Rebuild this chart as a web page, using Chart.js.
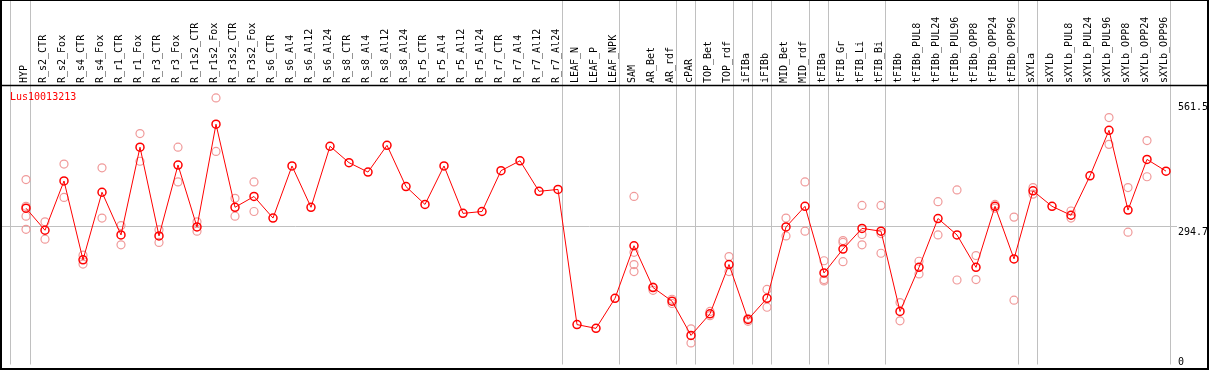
<!DOCTYPE html>
<html>
<head>
<title>Lus10013213</title>
<script src="https://cdn.jsdelivr.net/npm/chart.js@4.4.0/dist/chart.umd.min.js"></script>
<style>
  body { margin: 0; background: #fff; }
  #chart { display: block; }
</style>
</head>
<body>
<canvas id="chart" width="1209" height="370"></canvas>
<script>
const geneName = 'Lus10013213'

const samples = [
    'HYP', 'R_s2_CTR', 'R_s2_Fox', 'R_s4_CTR', 'R_s4_Fox', 'R_r1_CTR', 'R_r1_Fox', 'R_r3_CTR', 'R_r3_Fox',
    'R_r1s2_CTR', 'R_r1s2_Fox', 'R_r3s2_CTR', 'R_r3s2_Fox', 'R_s6_CTR', 'R_s6_Al4', 'R_s6_Al12', 'R_s6_Al24',
    'R_s8_CTR', 'R_s8_Al4', 'R_s8_Al12', 'R_s8_Al24', 'R_r5_CTR', 'R_r5_Al4', 'R_r5_Al12', 'R_r5_Al24',
    'R_r7_CTR', 'R_r7_Al4', 'R_r7_Al12', 'R_r7_Al24', 'LEAF_N', 'LEAF_P', 'LEAF_NPK', 'SAM', 'AR_Bet', 'AR_rdf',
    'cPAR', 'TOP_Bet', 'TOP_rdf', 'iFIBa', 'iFIBb', 'MID_Bet', 'MID_rdf', 'tFIBa', 'tFIB_Gr', 'tFIB_Li', 'tFIB_Bi',
    'tFIBb', 'tFIBb_PUL8', 'tFIBb_PUL24', 'tFIBb_PUL96', 'tFIBb_OPP8', 'tFIBb_OPP24', 'tFIBb_OPP96',
    'sXYLa', 'sXYLb', 'sXYLb_PUL8', 'sXYLb_PUL24', 'sXYLb_PUL96', 'sXYLb_OPP8', 'sXYLb_OPP24', 'sXYLb_OPP96',
]

// mean expression per sample
const means = [
    333, 286, 391, 223, 367, 276, 463, 274, 425, 293,
    512, 335, 358, 312, 423, 335, 465, 430, 410, 467,
    379, 341, 423, 322, 326, 413, 434, 369, 373, 85,
    77, 141, 253, 164, 135, 62, 108, 213, 96, 141,
    293, 337, 195, 246, 290, 284, 113, 207, 311, 276,
    207, 337, 225, 370, 337, 318, 402, 499, 329, 437, 412,
]

// individual replicates (pale circles), same order as samples
const replicates = [
    [394, 337, 316, 288], [304, 267], [427, 356], [233, 214], [419, 312], [296, 255], [492, 433], [287, 260],
    [463, 389], [304, 284], [568, 454], [354, 316], [389, 326], [], [], [], [],
    [], [], [], [], [], [], [], [],
    [], [], [], [], [], [], [], [358, 239, 213, 198], [165, 158], [139, 130],
    [76, 46], [113, 104], [230, 198], [98, 92], [160, 122], [312, 274], [389, 284], [221, 181, 178],
    [264, 260, 219], [339, 277, 255], [339, 279, 237],
    [132, 93], [220, 193], [347, 276], [372, 180], [232, 181], [341, 333], [314, 137],
    [377, 363], [], [327, 312], [], [526, 469], [377, 282], [477, 400], [],
]

// last sample of each group, a grey line follows it
const groupEnds = ['HYP', 'R_r7_Al24', 'LEAF_NPK', 'AR_rdf', 'cPAR', 'TOP_rdf', 'iFIBa', 'iFIBb',
    'MID_rdf', 'tFIBa', 'tFIB_Bi', 'tFIBb_OPP96', 'sXYLa', 'sXYLb_OPP96']

const yTicks = [561.5, 294.7, 0]
const yMax = 595.5

const repPoints = []
replicates.forEach((reps, i) => reps.forEach(v => repPoints.push({ x: samples[i], y: v })))

const monoFont = '"DejaVu Sans Mono", monospace'

const framePlugin = {
    id: 'frame',
    beforeDatasetsDraw(chart) {
        const { ctx, scales: { x, y }, chartArea } = chart
        ctx.save()
        ctx.strokeStyle = '#c0c0c0'
        ctx.lineWidth = 1
        ctx.beginPath()
        const gy = Math.floor(y.getPixelForValue(yTicks[1])) + 0.5
        ctx.moveTo(2, gy)
        ctx.lineTo(1177, gy)
        const xs = [x.getPixelForValue(0) - 15.3]
        groupEnds.forEach(n => xs.push(x.getPixelForValue(samples.indexOf(n)) + 4.3))
        xs.forEach(px => {
            const p = Math.floor(px) + 0.5
            ctx.moveTo(p, 0)
            ctx.lineTo(p, chartArea.bottom)
        })
        ctx.stroke()
        ctx.restore()
    },
    afterDraw(chart) {
        const { ctx, scales: { y }, chartArea, width, height } = chart
        ctx.save()
        // black frame
        ctx.strokeStyle = '#000'
        ctx.lineWidth = 2
        ctx.strokeRect(1, 0, width - 2, height - 1)
        ctx.lineWidth = 1.5
        ctx.beginPath()
        ctx.moveTo(0, chartArea.top + 0.5)
        ctx.lineTo(width, chartArea.top + 0.5)
        ctx.stroke()
        // right value labels
        ctx.fillStyle = '#000'
        ctx.font = '10px ' + monoFont
        ctx.textAlign = 'left'
        ctx.textBaseline = 'top'
        yTicks.forEach(v => {
            const ty = Math.min(y.getPixelForValue(v) + 1.5, height - 13)
            ctx.fillText(String(v), 1178, ty)
        })
        // gene name
        ctx.fillStyle = '#ff0000'
        ctx.textBaseline = 'middle'
        ctx.fillText(geneName, 10, 97)
        ctx.restore()
    },
}

new Chart('chart', {
    type: 'line',
    data: {
        labels: samples,
        datasets: [
            {
                label: geneName,
                data: means,
                borderColor: '#ff0000',
                borderWidth: 1,
                tension: 0,
                fill: false,
                pointRadius: 4,
                pointBorderWidth: 1.5,
                pointBorderColor: '#ff0000',
                pointBackgroundColor: 'rgba(0,0,0,0)',
            },
            {
                label: 'replicates',
                data: repPoints,
                showLine: false,
                pointRadius: 4,
                pointBorderWidth: 1.2,
                pointBorderColor: '#f09a9a',
                pointBackgroundColor: 'rgba(0,0,0,0)',
            },
        ],
    },
    options: {
        responsive: false,
        animation: false,
        events: [],
        layout: { padding: { left: 16.5, right: 33.5, top: 0, bottom: 1.3 } },
        plugins: { legend: { display: false }, tooltip: { enabled: false } },
        scales: {
            x: {
                type: 'category',
                position: 'top',
                offset: true,
                grid: { display: false, drawTicks: false },
                border: { display: false },
                afterFit: s => { s.height = 85 },
                ticks: {
                    autoSkip: false,
                    minRotation: 90,
                    maxRotation: 90,
                    padding: 2,
                    labelOffset: 10,
                    color: '#000',
                    font: { family: monoFont, size: 10 },
                },
            },
            y: {
                display: false,
                min: 0,
                max: yMax,
            },
        },
    },
    plugins: [framePlugin],
})
</script>
</body>
</html>
